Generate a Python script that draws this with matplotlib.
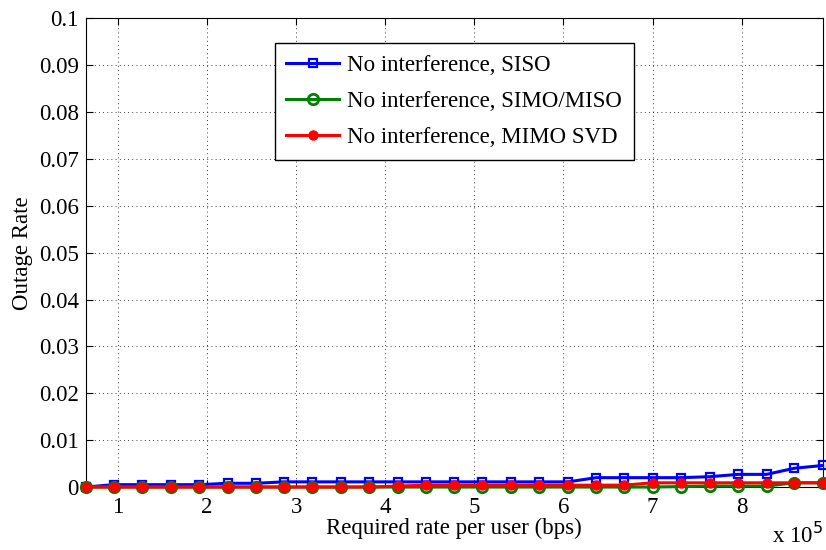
import matplotlib
matplotlib.use("Agg")
import matplotlib.pyplot as plt
from matplotlib.ticker import FixedLocator

# required rate per user, in units of 1e5 bps
rate = [0.64, 0.95, 1.27, 1.59, 1.91, 2.23, 2.55, 2.86, 3.18, 3.50, 3.82, 4.14, 4.46, 4.77,
        5.09, 5.41, 5.73, 6.05, 6.37, 6.68, 7.00, 7.32, 7.64, 7.96, 8.28, 8.59, 8.91]

outage_siso = [0, 0.0005, 0.0005, 0.0005, 0.0005, 0.0008, 0.0008, 0.0011, 0.0011, 0.0011,
               0.0011, 0.0011, 0.0011, 0.0011, 0.0011, 0.0011, 0.0011, 0.0011, 0.002, 0.002,
               0.002, 0.002, 0.0022, 0.0027, 0.0027, 0.004, 0.0046]
outage_simo = [0, 0, 0, 0, 0, 0, 0, 0, 0, 0, 0, 0, 0, 0, 0, 0, 0, 0, 0, 0,
               0, 0.0001, 0.0002, 0.0002, 0.0002, 0.0009, 0.0009]
outage_mimo = [0, 0, 0, 0, 0, 0, 0, 0, 0, 0, 0, 0.0002, 0.0004, 0.0004, 0.0004, 0.0004,
               0.0004, 0.0004, 0.0004, 0.0004, 0.0009, 0.0009, 0.0009, 0.0009, 0.0009,
               0.0009, 0.0009]

labels = ["No interference, SISO", "No interference, SIMO/MISO", "No interference, MIMO SVD"]
xticks = [1, 2, 3, 4, 5, 6, 7, 8]
yticks = [0, 0.01, 0.02, 0.03, 0.04, 0.05, 0.06, 0.07, 0.08, 0.09, 0.1]

plt.rcParams["font.family"] = ["Liberation Serif", "DejaVu Serif"]
plt.rcParams["font.size"] = 16.5

fig = plt.figure(figsize=(8.26, 5.5), dpi=100)
ax = fig.add_axes([0.104, 0.1145, 0.892, 0.852])

ax.plot(rate, outage_siso, color="blue", lw=2.2, marker="s", ms=6, mfc="none", mew=1.6,
        label=labels[0], clip_on=False, zorder=3)
ax.plot(rate, outage_simo, color="green", lw=2.2, marker="o", ms=7.5, mfc="none", mew=2.0,
        label=labels[1], clip_on=False, zorder=4)
ax.plot(rate, outage_mimo, color="red", lw=2.2, marker="o", ms=6.5, label=labels[2],
        clip_on=False, zorder=5)

ax.set_xlim(rate[0], rate[-1])
ax.set_ylim(0, 0.1)
ax.xaxis.set_major_locator(FixedLocator(xticks))
ax.yaxis.set_major_locator(FixedLocator(yticks))
ax.set_xticklabels([str(t) for t in xticks])
ax.set_yticklabels(["0"] + [f"{t:g}" for t in yticks[1:]])
ax.tick_params(axis="y", direction="in", right=True, length=5, width=0.8, pad=5)
ax.tick_params(axis="x", direction="in", top=True, length=5, width=0.8, pad=7)
ax.grid(True, color="black", linestyle=(0, (1, 4)), lw=0.6)
for s in ax.spines.values():
    s.set_linewidth(0.8)

ax.set_xlabel("Required rate per user (bps)", labelpad=0)
ax.set_ylabel("Outage Rate", labelpad=4)
fig.text(0.997, 0.004, r"x 10$^5$", ha="right", va="bottom")

leg = ax.legend(loc="upper center", bbox_to_anchor=(0.5, 0.947), fancybox=False,
                framealpha=1, edgecolor="black", borderpad=0.5, labelspacing=0.66,
                handlelength=2.3, handletextpad=0.35, borderaxespad=0)
leg.get_frame().set_linewidth(1.0)

fig.savefig("out.png", dpi=100)
